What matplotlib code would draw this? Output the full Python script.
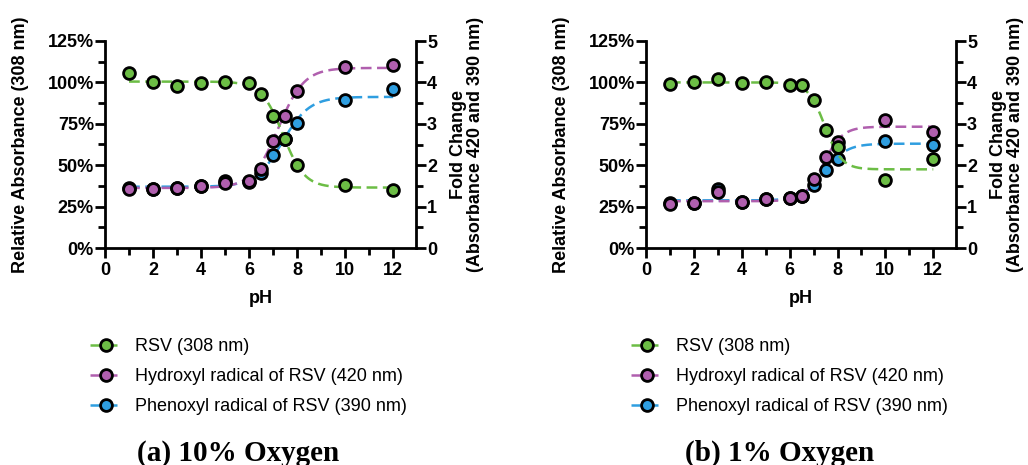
import numpy as np
import matplotlib
matplotlib.use("Agg")
import matplotlib.pyplot as plt
from matplotlib.lines import Line2D
from matplotlib.ticker import MultipleLocator, FuncFormatter

plt.rcParams['font.family'] = ['Liberation Sans', 'DejaVu Sans']

# ---------------- data ----------------
ph = [1, 2, 3, 4, 5, 6, 6.5, 7, 7.5, 8, 10, 12]

# (a) 10% oxygen
rsv_a = [105.7, 100.0, 97.8, 99.6, 100.4, 99.8, 92.8, 79.5, 65.8, 50.1, 38.2, 35.2]          # %
hyd_a = [1.42, 1.42, 1.44, 1.50, 1.58, 1.61, 1.92, 2.58, 3.18, 3.79, 4.38, 4.43]               # fold
phe_a = [1.45, 1.43, 1.45, 1.49, 1.62, 1.60, 1.80, 2.25, 2.63, 3.03, 3.57, 3.84]               # fold

# (b) 1% oxygen
rsv_b = [98.8, 100.4, 102.3, 99.8, 100.0, 98.6, 98.2, 89.4, 71.5, 60.8, 41.3, 53.5]
hyd_b = [1.06, 1.08, 1.35, 1.11, 1.19, 1.21, 1.26, 1.66, 2.21, 2.55, 3.08, 2.81]
phe_b = [1.08, 1.08, 1.43, 1.10, 1.18, 1.20, 1.25, 1.52, 1.88, 2.14, 2.59, 2.49]

# sigmoid fit parameters: (low-pH plateau, high-pH plateau, midpoint, width)
fit_rsv_a = (100.5, 36.5, 7.41, 0.45)
fit_hyd_a = (1.45, 4.35, 7.22, 0.535)
fit_phe_a = (1.48, 3.65, 7.39, 0.56)
fit_rsv_b = (100.0, 47.5, 7.47, 0.352)
fit_hyd_b = (1.13, 2.93, 7.41, 0.394)
fit_phe_b = (1.15, 2.52, 7.455, 0.46)

labels = ["RSV (308 nm)", "Hydroxyl radical of RSV (420 nm)", "Phenoxyl radical of RSV (390 nm)"]
titles = ["(a) 10% Oxygen", "(b) 1% Oxygen"]

GREEN = "#6cbd45"
PURPLE = "#b05fae"
BLUE = "#2f9ee0"


def sigmoid(x, p):
    a, b, x0, k = p
    return a + (b - a) / (1 + np.exp(-(x - x0) / k))


fig = plt.figure(figsize=(10.28, 4.65), dpi=100)
W, H = 1028, 465

panels = [
    dict(left=105, right=416, rsv=rsv_a, hyd=hyd_a, phe=phe_a,
         fits=(fit_rsv_a, fit_hyd_a, fit_phe_a), title=titles[0], tx=238,
         lx=84),
    dict(left=646, right=956, rsv=rsv_b, hyd=hyd_b, phe=phe_b,
         fits=(fit_rsv_b, fit_hyd_b, fit_phe_b), title=titles[1], tx=780,
         lx=625),
]

top_px, bot_px = 41, 248
xs = np.linspace(1, 12, 400)
ms = 8.5
mew = 2.0
DASH = (0, (4.3, 2.2))
FS = 13

for P in panels:
    ax = fig.add_axes([P['left'] / W, 1 - bot_px / H, (P['right'] - P['left']) / W, (bot_px - top_px) / H])
    ax2 = ax.twinx()
    ax.set_xlim(0, 12.95)
    ax.set_ylim(0, 125)
    ax2.set_ylim(0, 5)

    fr, fh, fp = P['fits']
    # fitted curves
    ax.plot(xs, sigmoid(xs, fr), ls=DASH, color=GREEN, lw=1.8, zorder=2)
    ax2.plot(xs, sigmoid(xs, fp), ls=DASH, color=BLUE, lw=1.8, zorder=2)
    ax2.plot(xs, sigmoid(xs, fh), ls=DASH, color=PURPLE, lw=1.8, zorder=2)
    # points
    ax.plot(ph, P['rsv'], 'o', ms=ms, mfc=GREEN, mec='black', mew=mew, zorder=4)
    ax2.plot(ph, P['phe'], 'o', ms=ms, mfc=BLUE, mec='black', mew=mew, zorder=4)
    ax2.plot(ph, P['hyd'], 'o', ms=ms, mfc=PURPLE, mec='black', mew=mew, zorder=5)
    ax.set_zorder(ax2.get_zorder() + 1)
    ax.patch.set_visible(False)

    for a in (ax, ax2):
        a.spines['top'].set_visible(False)
        for s in ('left', 'right', 'bottom'):
            a.spines[s].set_linewidth(2)
    ax.spines['right'].set_visible(False)
    ax2.spines['left'].set_visible(False)
    ax2.spines['bottom'].set_visible(False)

    ax.xaxis.set_major_locator(MultipleLocator(2))
    ax.xaxis.set_minor_locator(MultipleLocator(1))
    ax.yaxis.set_major_locator(MultipleLocator(25))
    ax.yaxis.set_minor_locator(MultipleLocator(12.5))
    ax.yaxis.set_major_formatter(FuncFormatter(lambda v, p: f"{int(round(v))}%"))
    ax2.yaxis.set_major_locator(MultipleLocator(1))
    ax2.yaxis.set_minor_locator(MultipleLocator(0.5))

    for a in (ax, ax2):
        a.tick_params(which='major', length=7, width=2, labelsize=FS, pad=1)
        a.tick_params(which='minor', length=5, width=2)
        for lab in a.get_xticklabels() + a.get_yticklabels():
            lab.set_fontweight('bold')
    ax.tick_params(axis='x', pad=3)

    ax.set_xlabel("pH", fontsize=FS, fontweight='bold', labelpad=8)
    ax.set_ylabel("Relative Absorbance (308 nm)", fontsize=FS, fontweight='bold', labelpad=13)
    ax2.set_ylabel("Fold Change\n(Absorbance 420 and 390 nm)", fontsize=FS, fontweight='bold',
                   labelpad=9, linespacing=1.0)

    # legend (manual, below chart)
    handles = [Line2D([], [], color=c, ls=DASH, lw=1.8, marker='o', ms=ms,
                      mfc=c, mec='black', mew=mew) for c in (GREEN, PURPLE, BLUE)]
    fig.legend(handles, labels, loc='upper left',
               bbox_to_anchor=((P['lx'] - 1) / W, 1 - 331 / H),
               frameon=False, fontsize=FS, handlelength=1.75, handletextpad=0.75,
               labelspacing=0.72, borderaxespad=0)
    fig.text(P['tx'] / W, 1 - 453 / H, P['title'], ha='center', va='center',
             fontsize=21, fontweight='bold', family=['Liberation Serif', 'DejaVu Serif'])

fig.savefig("out.png", dpi=100)
